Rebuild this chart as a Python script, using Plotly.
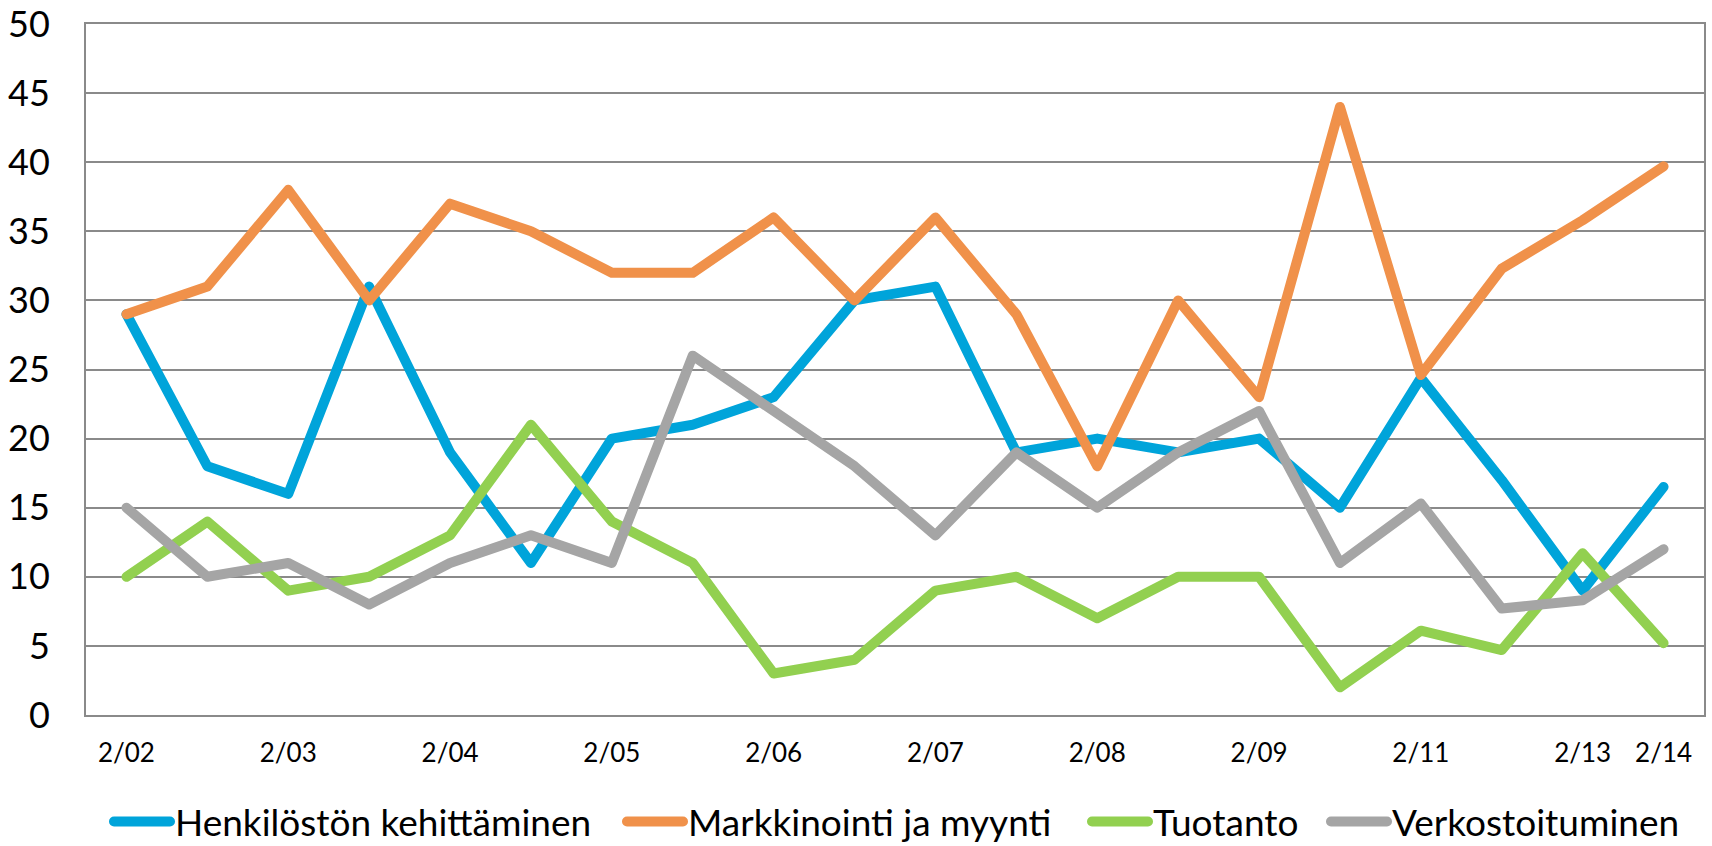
import plotly.graph_objects as go

# ---- data ----
x_labels = ["2/02", "", "2/03", "", "2/04", "", "2/05", "", "2/06", "",
            "2/07", "", "2/08", "", "2/09", "", "2/11", "", "2/13", "2/14"]

henkilosto = [29, 18, 16, 31, 19, 11, 20, 21, 23, 30, 31, 19, 20, 19, 20, 15, 24.4, 17, 9, 16.5]
markkinointi = [29, 31, 38, 30, 37, 35, 32, 32, 36, 30, 36, 29, 18, 30, 23, 44, 24.6, 32.3, 35.8, 39.7]
tuotanto = [10, 14, 9, 10, 13, 21, 14, 11, 3, 4, 9, 10, 7, 10, 10, 2, 6.1, 4.7, 11.7, 5.2]
verkosto = [15, 10, 11, 8, 11, 13, 11, 26, 22, 18, 13, 19, 15, 19, 22, 11, 15.3, 7.7, 8.3, 12]

series_names = ["Henkilöstön kehittäminen", "Markkinointi ja myynti", "Tuotanto", "Verkostoituminen"]
series_values = [henkilosto, markkinointi, tuotanto, verkosto]
series_colors = ["#00A4DA", "#F0914A", "#92D050", "#A5A5A5"]

y_ticks = [0, 5, 10, 15, 20, 25, 30, 35, 40, 45, 50]

# ---- layout constants ----
W, H = 1712, 846
ML, MR, MT, MB = 86, 8, 24, 131
FONT = "Lato"
GRID = "#8A8A8A"

xs = list(range(len(x_labels)))
tickvals = [i for i, l in enumerate(x_labels) if l]
ticktext = [l for l in x_labels if l]

# legend item left edges (px) -> paper coords
legend_px = [109, 622, 1087, 1326]
plot_w = W - ML - MR
plot_h = H - MT - MB
legend_y = (MT + plot_h - 822) / plot_h

fig = go.Figure()
for k, (name, vals, col) in enumerate(zip(series_names, series_values, series_colors)):
    lg = "legend" if k == 0 else f"legend{k+1}"
    fig.add_trace(go.Scatter(
        x=xs, y=vals, mode="lines", name=name,
        line=dict(color=col, width=10),
        legend=lg, hoverinfo="skip",
    ))

legend_common = dict(
    orientation="h", yanchor="middle", xanchor="left",
    font=dict(family=FONT, size=37, color="#000000"),
    itemwidth=56, bgcolor="rgba(0,0,0,0)", borderwidth=0,
)
lay = dict(
    width=W, height=H,
    margin=dict(l=ML, r=MR, t=MT, b=MB, pad=0, autoexpand=False),
    paper_bgcolor="white", plot_bgcolor="white",
    font=dict(family=FONT, color="#000000"),
    showlegend=True,
    xaxis=dict(
        range=[-0.5, len(x_labels) - 0.5],
        tickmode="array", tickvals=tickvals, ticktext=ticktext,
        tickfont=dict(family=FONT, size=26, color="#000000"),
        showgrid=False, zeroline=False,
        showline=True, linecolor=GRID, linewidth=2, mirror=True,
        ticks="", ticklabelstandoff=14, automargin=False,
    ),
    yaxis=dict(
        range=[0, 50], tickmode="array", tickvals=y_ticks,
        tickfont=dict(family=FONT, size=36, color="#000000"),
        showgrid=True, gridcolor=GRID, gridwidth=1.6,
        zeroline=False,
        showline=True, linecolor=GRID, linewidth=2, mirror=True,
        ticks="", ticklabelstandoff=27, automargin=False,
    ),
)
for k in range(len(series_names)):
    key = "legend" if k == 0 else f"legend{k+1}"
    lay[key] = dict(legend_common, x=(legend_px[k] - ML) / plot_w, y=legend_y)
fig.update_layout(**lay)

post = """
document.body.style.margin='0';
document.body.style.overflow='hidden';
document.querySelectorAll('.scatterlayer .js-line').forEach(function(p){
  p.style.strokeLinejoin='round'; p.style.strokeLinecap='round';});
document.querySelectorAll('.legendlines path').forEach(function(p){
  p.style.strokeLinecap='round';});
"""
fig.write_html("out.html", post_script=post, config={"displayModeBar": False})
